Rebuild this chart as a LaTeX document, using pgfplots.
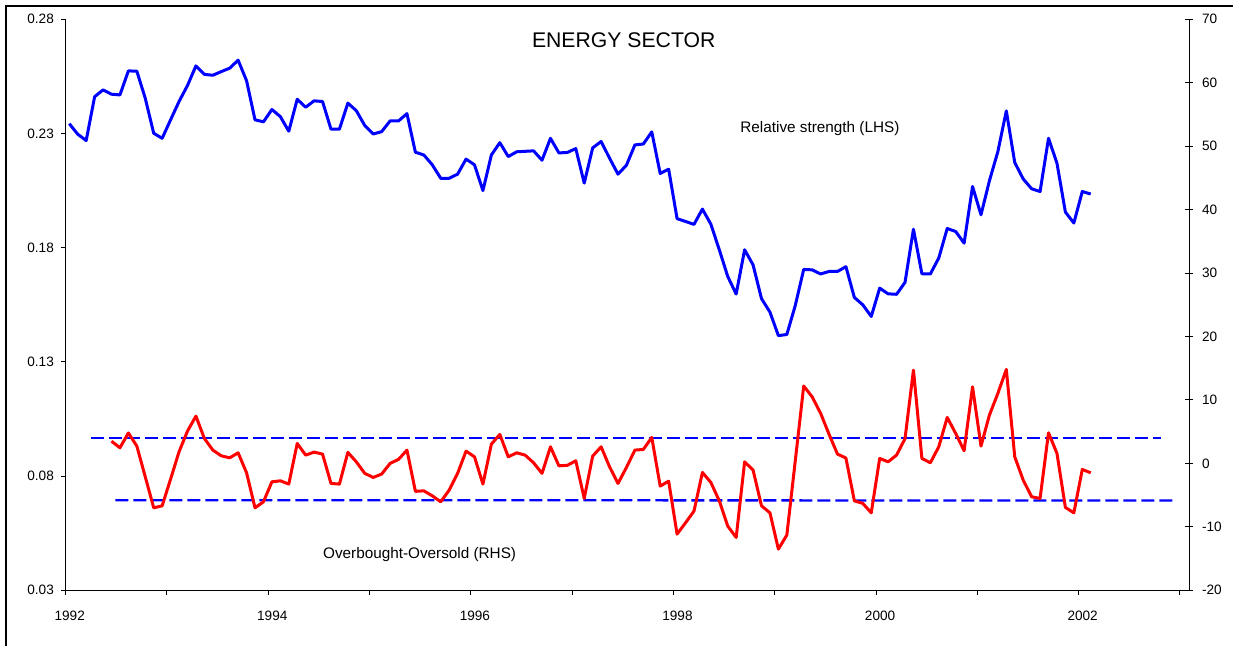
\documentclass[border=0pt]{standalone}
\usepackage{fontspec}
\setmainfont{Liberation Sans}
\usepackage{pgfplots}
\usepackage{pgfplotstable}
\pgfplotsset{compat=1.18}

\pgfplotstableread{
x rs ob
1992.0355 0.2343 nan
1992.1188 0.2297 nan
1992.2022 0.2269 nan
1992.2855 0.2461 nan
1992.3688 0.2491 nan
1992.4522 0.2472 3.50
1992.5355 0.2469 2.46
1992.6188 0.2574 4.80
1992.7022 0.2573 2.73
1992.7855 0.2454 -2.11
1992.8688 0.2301 -7.00
1992.9522 0.2279 -6.68
1993.0355 0.2360 -2.47
1993.1188 0.2440 1.83
1993.2022 0.2510 5.09
1993.2855 0.2596 7.46
1993.3688 0.2559 3.94
1993.4522 0.2555 2.10
1993.5355 0.2571 1.20
1993.6188 0.2586 0.88
1993.7022 0.2621 1.67
1993.7855 0.2531 -1.48
1993.8688 0.2360 -7.00
1993.9522 0.2351 -6.05
1994.0355 0.2405 -2.90
1994.1188 0.2374 -2.74
1994.2022 0.2310 -3.26
1994.2855 0.2450 3.15
1994.3688 0.2415 1.31
1994.4522 0.2443 1.78
1994.5355 0.2440 1.47
1994.6188 0.2319 -3.15
1994.7022 0.2319 -3.26
1994.7855 0.2433 1.74
1994.8688 0.2400 0.25
1994.9522 0.2335 -1.57
1995.0355 0.2298 -2.21
1995.1188 0.2308 -1.68
1995.2022 0.2355 0.00
1995.2855 0.2355 0.63
1995.3688 0.2387 2.10
1995.4522 0.2218 -4.40
1995.5355 0.2206 -4.32
1995.6188 0.2163 -5.11
1995.7022 0.2104 -6.05
1995.7855 0.2104 -4.21
1995.8688 0.2122 -1.57
1995.9522 0.2188 1.94
1996.0355 0.2163 1.04
1996.1188 0.2050 -3.26
1996.2022 0.2206 3.04
1996.2855 0.2260 4.57
1996.3688 0.2199 1.04
1996.4522 0.2220 1.67
1996.5355 0.2222 1.31
1996.6188 0.2224 0.10
1996.7022 0.2183 -1.57
1996.7855 0.2279 2.62
1996.8688 0.2215 -0.38
1996.9522 0.2217 -0.30
1997.0355 0.2234 0.41
1997.1188 0.2083 -5.52
1997.2022 0.2237 1.15
1997.2855 0.2265 2.62
1997.3688 0.2192 -0.53
1997.4522 0.2122 -3.15
1997.5355 0.2161 -0.64
1997.6188 0.2250 2.10
1997.7022 0.2254 2.20
1997.7855 0.2307 4.10
1997.8688 0.2125 -3.58
1997.9522 0.2144 -2.79
1998.0355 0.1927 -11.14
1998.1188 0.1915 -9.36
1998.2022 0.1902 -7.52
1998.2855 0.1969 -1.42
1998.3688 0.1903 -3.00
1998.4522 0.1791 -5.90
1998.5355 0.1674 -9.88
1998.6188 0.1597 -11.67
1998.7022 0.1791 0.25
1998.7855 0.1725 -1.05
1998.8688 0.1577 -6.68
1998.9522 0.1518 -7.79
1999.0355 0.1415 -13.51
1999.1188 0.1420 -11.30
1999.2022 0.1547 0.40
1999.2855 0.1705 12.20
1999.3688 0.1703 10.50
1999.4522 0.1685 7.90
1999.5355 0.1696 4.60
1999.6188 0.1696 1.47
1999.7022 0.1717 0.85
1999.7855 0.1582 -5.90
1999.8688 0.1550 -6.30
1999.9522 0.1499 -7.79
2000.0355 0.1623 0.79
2000.1188 0.1598 0.25
2000.2022 0.1596 1.31
2000.2855 0.1648 3.90
2000.3688 0.1881 14.71
2000.4522 0.1686 0.79
2000.5355 0.1685 0.10
2000.6188 0.1755 2.62
2000.7022 0.1884 7.25
2000.7855 0.1871 4.73
2000.8688 0.1820 2.00
2000.9522 0.2068 12.08
2001.0355 0.1944 2.73
2001.1188 0.2093 7.62
2001.2022 0.2221 11.04
2001.2855 0.2399 14.82
2001.3688 0.2173 1.04
2001.4522 0.2101 -2.63
2001.5355 0.2058 -5.26
2001.6188 0.2046 -5.52
2001.7022 0.2279 4.83
2001.7855 0.2170 1.58
2001.8688 0.1956 -6.94
2001.9522 0.1908 -7.79
2002.0355 0.2046 -0.95
2002.1188 0.2035 -1.48
}\datatable

\begin{document}
\begin{tikzpicture}
\path[use as bounding box] (0,0) rectangle (616.5pt,322.5pt);
\draw[line width=0.8pt] (3pt,-2pt) -- (3pt,319.65pt) -- (618pt,319.65pt);
\begin{axis}[
  at={(32.85pt,27.35pt)}, anchor=south west, scale only axis,
  width=561.65pt, height=285.5pt,
  xmin=1992, xmax=2003.089, ymin=0.03, ymax=0.28,
  axis y line*=left, axis x line*=bottom,
  axis line style={line width=0.5pt, -},
  xtick={1992,1993,1994,1995,1996,1997,1998,1999,2000,2001,2002,2003},
  xticklabels={1992,,1994,,1996,,1998,,2000,,2002,},
  ytick={0.03,0.08,0.13,0.18,0.23,0.28},
  yticklabels={0.03,0.08,0.13,0.18,0.23,0.28},
  scaled y ticks=false, scaled x ticks=false,
  tick align=outside, major tick length=2.4pt,
  tick style={black, line width=0.5pt},
  ticklabel style={font=\fontsize{6.8}{8}\selectfont},
  xticklabel style={yshift=-4.5pt, xshift=2pt},
  clip=false,
]
\addplot[blue, line width=1.5pt, line join=round] table[x=x,y=rs] {\datatable};
\end{axis}
\begin{axis}[
  at={(32.85pt,27.35pt)}, anchor=south west, scale only axis,
  width=561.65pt, height=285.5pt,
  xmin=1992, xmax=2003.089, ymin=-20, ymax=70,
  axis y line*=right, axis x line=none,
  axis line style={line width=0.5pt, -},
  ytick={-20,-10,0,10,20,30,40,50,60,70},
  yticklabels={-20,-10,0,10,20,30,40,50,60,70},
  tick align=center, major tick length=4pt,
  tick style={black, line width=0.5pt},
  ticklabel style={font=\fontsize{6.8}{8}\selectfont},
  yticklabel style={xshift=1pt},
  clip=false,
]
\addplot[blue, line width=1.15pt, dash pattern=on 6.5pt off 2.5pt] coordinates {(1992.247,3.99) (2002.81,3.99)};
\addplot[blue, line width=1.15pt, dash pattern=on 6.5pt off 2.5pt] coordinates {(1992.49,-5.79) (2002.94,-5.85)};
\addplot[red, line width=1.5pt, line join=round] table[x=x,y=ob] {\datatable};
\end{axis}
\node[font=\fontsize{10.6}{12}\selectfont] at (311.85pt,302.5pt) {ENERGY SECTOR};
\node[font=\fontsize{7.65}{9}\selectfont, anchor=west, inner sep=0pt] at (370pt,258pt) {Relative strength (LHS)};
\node[font=\fontsize{7.65}{9}\selectfont, anchor=west, inner sep=0pt] at (161.35pt,45pt) {Overbought-Oversold (RHS)};
\end{tikzpicture}
\end{document}
